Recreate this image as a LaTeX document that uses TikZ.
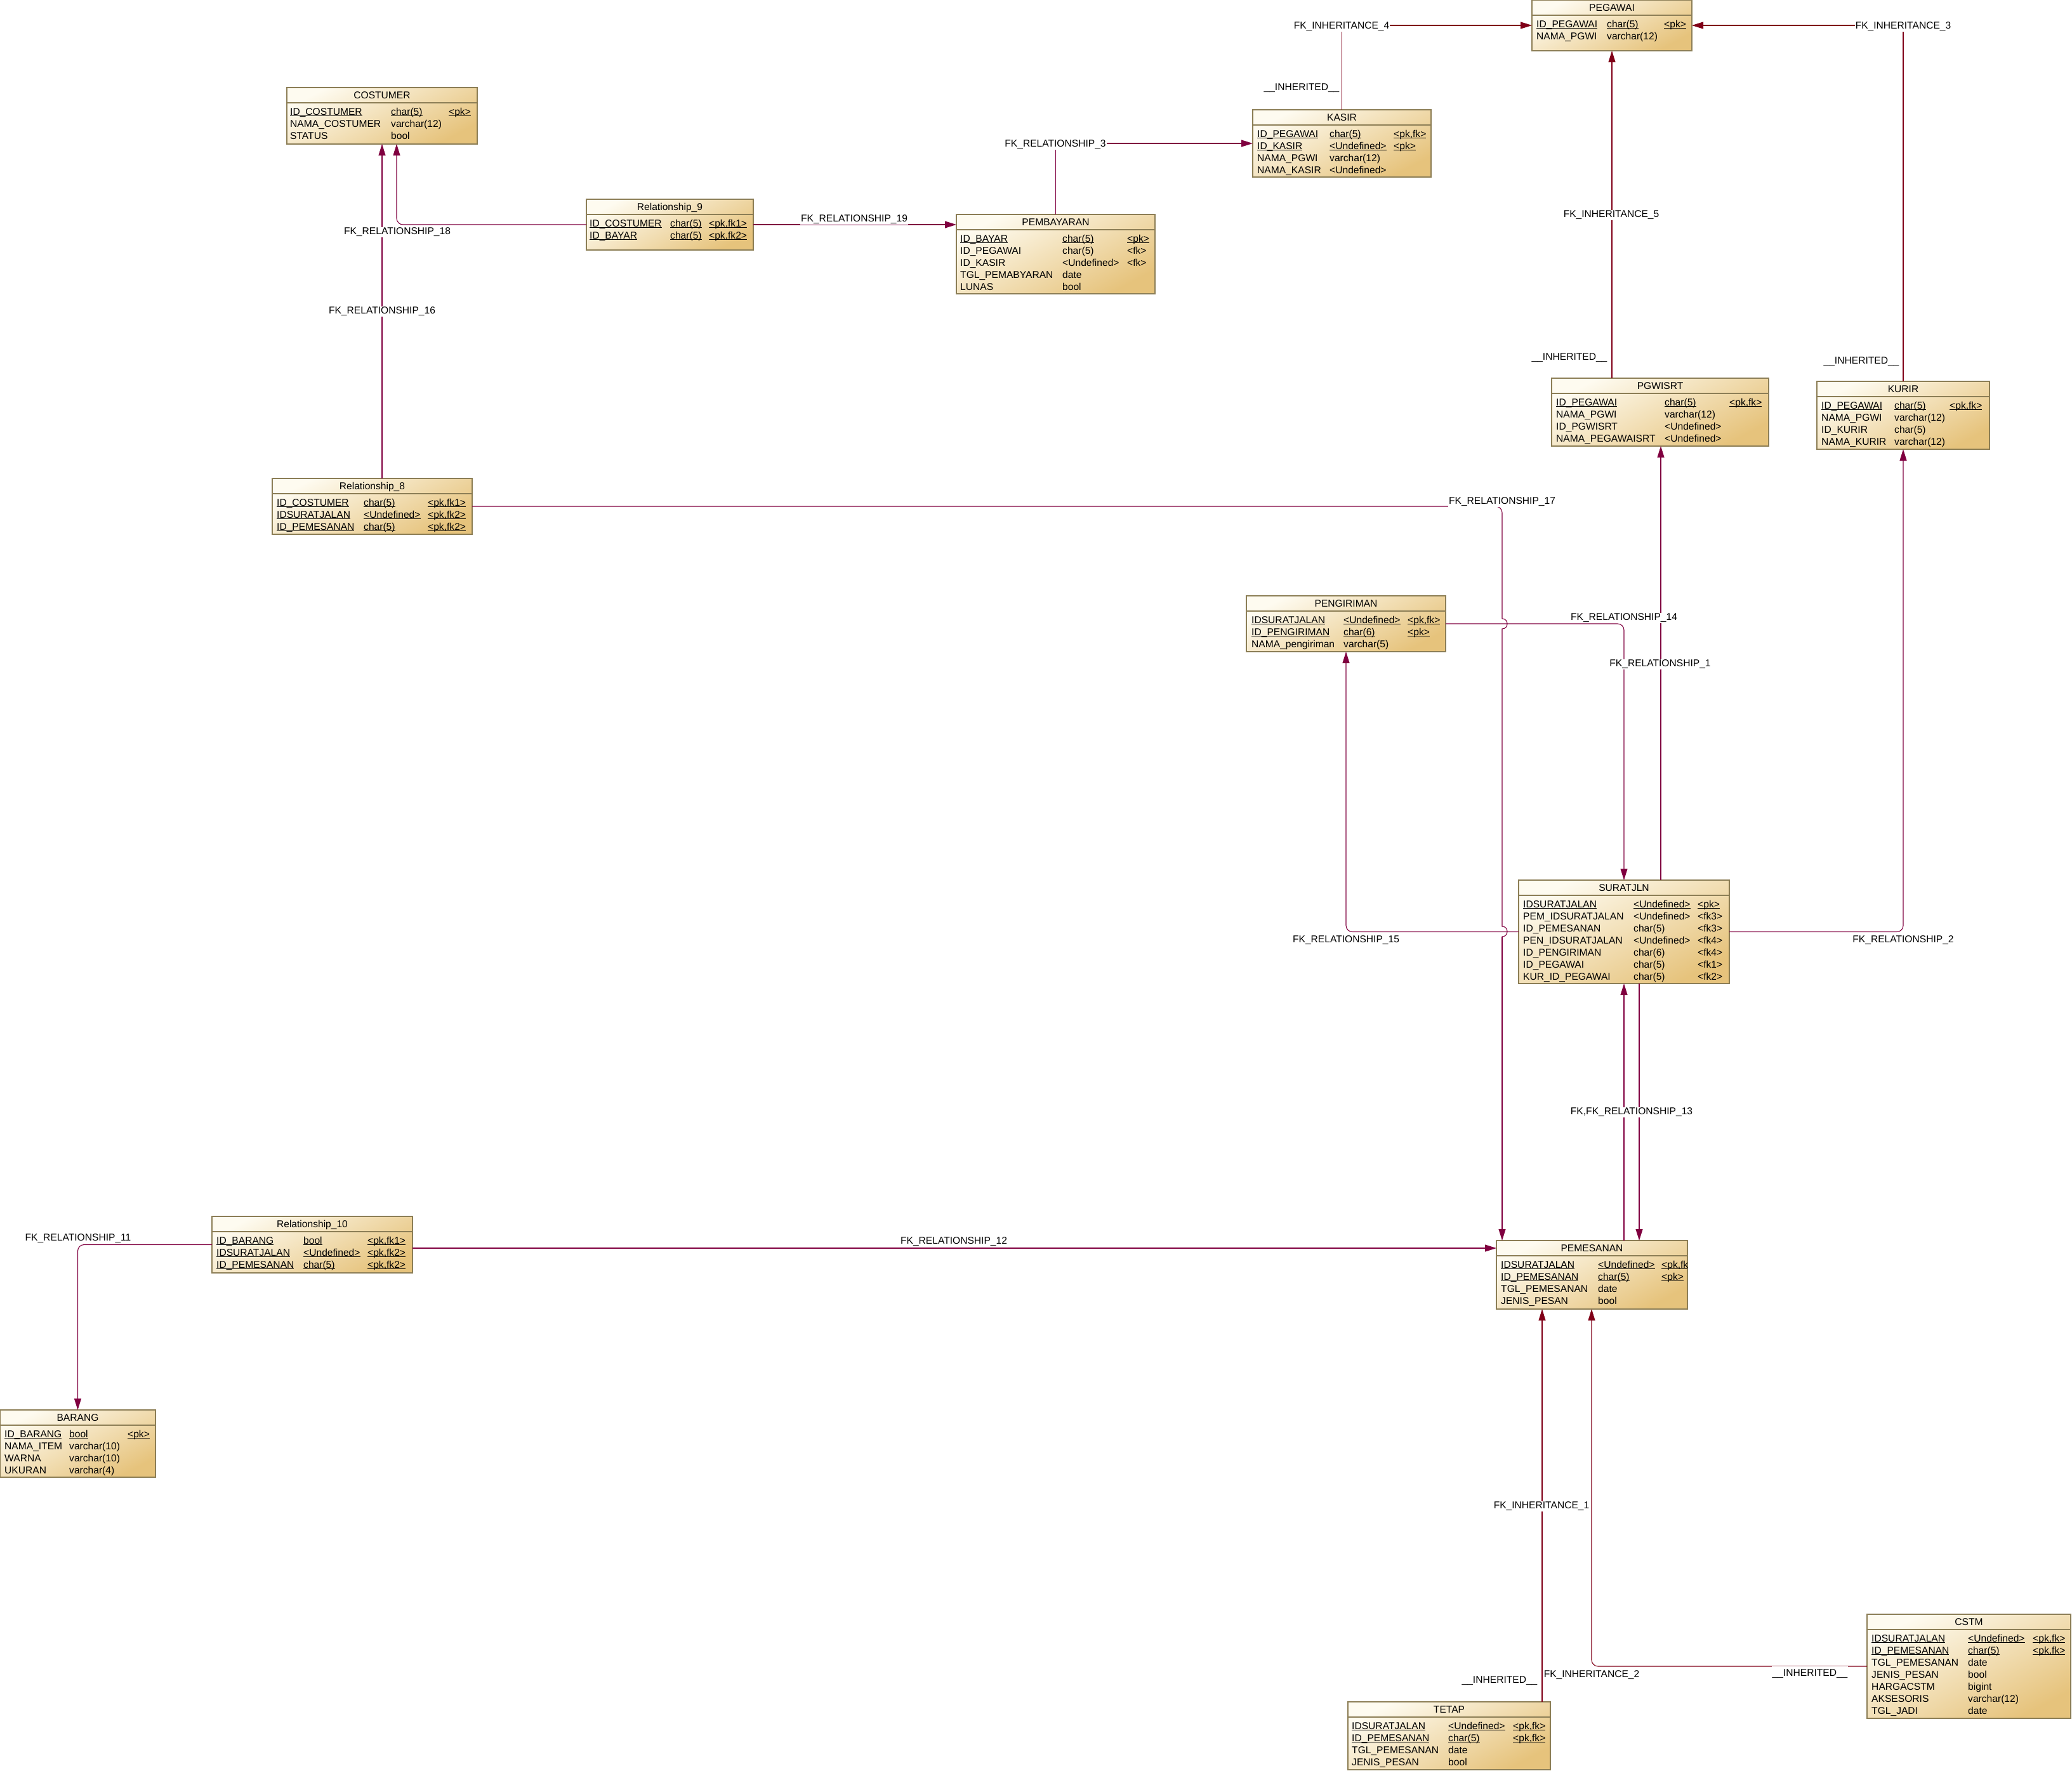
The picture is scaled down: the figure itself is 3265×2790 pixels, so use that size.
\documentclass[tikz,border=0pt]{standalone}
\usepackage{fontspec}
\setmainfont{Liberation Sans}
\usetikzlibrary{calc,arrows.meta}
\definecolor{boxlight}{RGB}{254,251,240}
\definecolor{boxdark}{RGB}{230,195,124}
\definecolor{boxborder}{RGB}{140,126,86}
\definecolor{relcol}{RGB}{128,0,64}
\definecolor{inhcol}{RGB}{128,0,24}
\newcommand\keyul[1]{\setbox0\hbox{#1}\rlap{\rule[-2.2pt]{\wd0}{1pt}}\box0}
\newcommand\entity[6]{%
  \node[entbox, minimum width={(#4)-(#2)}, minimum height={(#5)-(#3)}] (#1) at (#2,#3) {};
  \draw[entline] ($(#1.north west)+(0,24)$) -- ($(#1.north east)+(0,24)$);
  \node[etitle] (#1-title) at ($(#1.north)+(0,17.6)$) {#6};
  \def\ename{#1}\def\etop{#3}}
\newcommand\cols[3]{\def\ca{#1}\def\cb{#2}\def\cc{#3}}
\newcommand\erow[4]{%
  \pgfmathsetmacro\ey{\etop+37.5+19*(#1-1)+5.6}%
  \node[ecell] (\ename-r#1a) at (\ca,\ey) {#2};
  \node[ecell] (\ename-r#1b) at (\cb,\ey) {#3};
  \node[ecell] (\ename-r#1c) at (\cc,\ey) {#4};}
\tikzset{
  entbox/.style={draw=boxborder, line width=1.3pt, top color=boxlight, bottom color=boxdark, shading angle=28, inner sep=0pt, outer sep=0pt, anchor=north west, rectangle},
  entline/.style={draw=boxborder, line width=1.2pt},
  etitle/.style={anchor=base, inner sep=0pt, font=\fontsize{15.6}{19}\selectfont},
  ecell/.style={anchor=base west, inner sep=0pt, font=\fontsize{15.6}{19}\selectfont},
  rel/.style={draw=relcol, line width=1.1pt},
  inh/.style={draw=inhcol, line width=1.1pt},
  fkarrow/.style={-{Triangle[length=18pt,width=11pt]}},
  lbl/.style={fill=white, inner sep=1pt, anchor=base, font=\fontsize{15.6}{19}\selectfont},
}
\begin{document}
\begin{tikzpicture}[x=1pt,y=-1pt]
\useasboundingbox (0,0) rectangle (3265,2790);
\fill[white] (0,0) rectangle (3265,2790);

% ---------- entities ----------
\entity{pegawai}{2414}{0}{2666}{80}{PEGAWAI}
\cols{2421}{2532}{2622}
\erow{1}{\keyul{ID\_PEGAWAI}}{\keyul{char(5)}}{\keyul{<pk>}}
\erow{2}{NAMA\_PGWI}{varchar(12)}{}

\entity{kasir}{1974}{173}{2255}{279}{KASIR}
\cols{1981}{2095}{2196}
\erow{1}{\keyul{ID\_PEGAWAI}}{\keyul{char(5)}}{\keyul{<pk,fk>}}
\erow{2}{\keyul{ID\_KASIR}}{\keyul{<Undefined>}}{\keyul{<pk>}}
\erow{3}{NAMA\_PGWI}{varchar(12)}{}
\erow{4}{NAMA\_KASIR}{<Undefined>}{}

\entity{costumer}{452}{138}{752}{227}{COSTUMER}
\cols{457}{616}{707}
\erow{1}{\keyul{ID\_COSTUMER}}{\keyul{char(5)}}{\keyul{<pk>}}
\erow{2}{NAMA\_COSTUMER}{varchar(12)}{}
\erow{3}{STATUS}{bool}{}

\entity{rel9}{924}{314}{1187}{394}{Relationship\_9}
\cols{929}{1056}{1117}
\erow{1}{\keyul{ID\_COSTUMER}}{\keyul{char(5)}}{\keyul{<pk,fk1>}}
\erow{2}{\keyul{ID\_BAYAR}}{\keyul{char(5)}}{\keyul{<pk,fk2>}}

\entity{pembayaran}{1507}{338}{1820}{463}{PEMBAYARAN}
\cols{1513}{1674}{1776}
\erow{1}{\keyul{ID\_BAYAR}}{\keyul{char(5)}}{\keyul{<pk>}}
\erow{2}{ID\_PEGAWAI}{char(5)}{<fk>}
\erow{3}{ID\_KASIR}{<Undefined>}{<fk>}
\erow{4}{TGL\_PEMABYARAN}{date}{}
\erow{5}{LUNAS}{bool}{}

\entity{pgwisrt}{2445}{596}{2787}{703}{PGWISRT}
\cols{2452}{2623}{2725}
\erow{1}{\keyul{ID\_PEGAWAI}}{\keyul{char(5)}}{\keyul{<pk,fk>}}
\erow{2}{NAMA\_PGWI}{varchar(12)}{}
\erow{3}{ID\_PGWISRT}{<Undefined>}{}
\erow{4}{NAMA\_PEGAWAISRT}{<Undefined>}{}

\entity{kurir}{2863}{601}{3135}{708}{KURIR}
\cols{2870}{2985}{3072}
\erow{1}{\keyul{ID\_PEGAWAI}}{\keyul{char(5)}}{\keyul{<pk,fk>}}
\erow{2}{NAMA\_PGWI}{varchar(12)}{}
\erow{3}{ID\_KURIR}{char(5)}{}
\erow{4}{NAMA\_KURIR}{varchar(12)}{}

\entity{rel8}{429}{754}{744}{842}{Relationship\_8}
\cols{436}{573}{674}
\erow{1}{\keyul{ID\_COSTUMER}}{\keyul{char(5)}}{\keyul{<pk,fk1>}}
\erow{2}{\keyul{IDSURATJALAN}}{\keyul{<Undefined>}}{\keyul{<pk,fk2>}}
\erow{3}{\keyul{ID\_PEMESANAN}}{\keyul{char(5)}}{\keyul{<pk,fk2>}}

\entity{pengiriman}{1964}{939}{2278}{1027}{PENGIRIMAN}
\cols{1972}{2117}{2218}
\erow{1}{\keyul{IDSURATJALAN}}{\keyul{<Undefined>}}{\keyul{<pk,fk>}}
\erow{2}{\keyul{ID\_PENGIRIMAN}}{\keyul{char(6)}}{\keyul{<pk>}}
\erow{3}{NAMA\_pengiriman}{varchar(5)}{}

\entity{suratjln}{2393}{1387}{2725}{1550}{SURATJLN}
\cols{2400}{2574}{2675}
\erow{1}{\keyul{IDSURATJALAN}}{\keyul{<Undefined>}}{\keyul{<pk>}}
\erow{2}{PEM\_IDSURATJALAN}{<Undefined>}{<fk3>}
\erow{3}{ID\_PEMESANAN}{char(5)}{<fk3>}
\erow{4}{PEN\_IDSURATJALAN}{<Undefined>}{<fk4>}
\erow{5}{ID\_PENGIRIMAN}{char(6)}{<fk4>}
\erow{6}{ID\_PEGAWAI}{char(5)}{<fk1>}
\erow{7}{KUR\_ID\_PEGAWAI}{char(5)}{<fk2>}

\entity{pemesanan}{2358}{1955}{2659}{2063}{PEMESANAN}
\cols{2365}{2518}{2618}
\begin{scope}
\clip (pemesanan.north west) rectangle (pemesanan.south east);
\erow{1}{\keyul{IDSURATJALAN}}{\keyul{<Undefined>}}{\keyul{<pk,fk>}}
\end{scope}
\erow{2}{\keyul{ID\_PEMESANAN}}{\keyul{char(5)}}{\keyul{<pk>}}
\erow{3}{TGL\_PEMESANAN}{date}{}
\erow{4}{JENIS\_PESAN}{bool}{}

\entity{rel10}{334}{1917}{650}{2006}{Relationship\_10}
\cols{341}{478}{579}
\erow{1}{\keyul{ID\_BARANG}}{\keyul{bool}}{\keyul{<pk,fk1>}}
\erow{2}{\keyul{IDSURATJALAN}}{\keyul{<Undefined>}}{\keyul{<pk,fk2>}}
\erow{3}{\keyul{ID\_PEMESANAN}}{\keyul{char(5)}}{\keyul{<pk,fk2>}}

\entity{barang}{0}{2222}{245}{2328}{BARANG}
\cols{7}{109}{201}
\erow{1}{\keyul{ID\_BARANG}}{\keyul{bool}}{\keyul{<pk>}}
\erow{2}{NAMA\_ITEM}{varchar(10)}{}
\erow{3}{WARNA}{varchar(10)}{}
\erow{4}{UKURAN}{varchar(4)}{}

\entity{tetap}{2124}{2682}{2443}{2789}{TETAP}
\cols{2130}{2282}{2384}
\erow{1}{\keyul{IDSURATJALAN}}{\keyul{<Undefined>}}{\keyul{<pk,fk>}}
\erow{2}{\keyul{ID\_PEMESANAN}}{\keyul{char(5)}}{\keyul{<pk,fk>}}
\erow{3}{TGL\_PEMESANAN}{date}{}
\erow{4}{JENIS\_PESAN}{bool}{}

\entity{cstm}{2942}{2544}{3263}{2708}{CSTM}
\cols{2949}{3101}{3203}
\erow{1}{\keyul{IDSURATJALAN}}{\keyul{<Undefined>}}{\keyul{<pk,fk>}}
\erow{2}{\keyul{ID\_PEMESANAN}}{\keyul{char(5)}}{\keyul{<pk,fk>}}
\erow{3}{TGL\_PEMESANAN}{date}{}
\erow{4}{JENIS\_PESAN}{bool}{}
\erow{5}{HARGACSTM}{bigint}{}
\erow{6}{AKSESORIS}{varchar(12)}{}
\erow{7}{TGL\_JADI}{date}{}

% ---------- connectors ----------
\draw[inh, fkarrow] (kasir.north) |- (pegawai.west);
\draw[inh, fkarrow] (kurir.north) |- (pegawai.east);
\draw[inh, fkarrow] (pegawai.south |- pgwisrt.north) -- (pegawai.south);
\draw[rel, fkarrow] (pembayaran.north) |- (kasir.west);
\draw[rel, fkarrow] (rel9.east) -- (pembayaran.west |- rel9.east);
\coordinate (c18) at ($(costumer.south west)+(173,0)$);
\draw[rel, fkarrow, rounded corners=10pt] (rel9.west) -| (c18);
\draw[rel, fkarrow] (costumer.south |- rel8.north) -- (costumer.south);
% FK_RELATIONSHIP_17 with two hops
\coordinate (h1) at (2367,975);
\coordinate (h1e) at (2367,991);
\coordinate (h2) at (2367,1460);
\coordinate (h2e) at (2367,1476);
\draw[rel, rounded corners=10pt] (rel8.east) -| (h1);
\draw[rel] (h1) .. controls (2377.7,975) and (2377.7,991) .. (h1e) -- (h2) .. controls (2377.7,1460) and (2377.7,1476) .. (h2e);
\draw[rel, fkarrow] (h2e) -- (h2e |- pemesanan.north);
% FK_RELATIONSHIP_14
\coordinate (s14) at ($(suratjln.north west)+(166,0)$);
\coordinate (p14) at ($(pengiriman.north east)+(0,44)$);
\draw[rel, fkarrow, rounded corners=10pt] (p14) -| (s14);
% FK_RELATIONSHIP_1
\coordinate (s1) at ($(suratjln.north west)+(224,0)$);
\draw[rel, fkarrow] (s1) -- (s1 |- pgwisrt.south);
% FK_RELATIONSHIP_2 and 15
\draw[rel, fkarrow, rounded corners=10pt] (suratjln.east) -| (kurir.south);
\draw[rel, fkarrow, rounded corners=10pt] (suratjln.west) -| (pengiriman.south);
% FK,FK_RELATIONSHIP_13
\coordinate (m13a) at ($(pemesanan.north west)+(201,0)$);
\draw[rel, fkarrow] (m13a) -- (m13a |- suratjln.south);
\coordinate (s13b) at ($(suratjln.south west)+(190,0)$);
\draw[rel, fkarrow] (s13b) -- (s13b |- pemesanan.north);
% FK_RELATIONSHIP_12 and 11
\coordinate (r12) at ($(rel10.east)+(0,5.5)$);
\draw[rel, fkarrow] (r12) -- (pemesanan.west |- r12);
\draw[rel, fkarrow, rounded corners=10pt] (rel10.west) -| (barang.north);
% inheritance 1 and 2
\coordinate (t1) at ($(tetap.north west)+(306,0)$);
\draw[inh, fkarrow] (t1) -- (t1 |- pemesanan.south);
\coordinate (e2) at ($(pemesanan.south west)+(150,0)$);
\draw[inh, fkarrow, rounded corners=10pt] (cstm.west) -| (e2);

% ---------- labels ----------
\node[lbl] (l-inh4) at (2114,45.6) {FK\_INHERITANCE\_4};
\node[lbl] (l-inhk) at (2051,142.6) {\_\_INHERITED\_\_};
\node[lbl] (l-inh3) at (2999,45.6) {FK\_INHERITANCE\_3};
\node[lbl] (l-inhku) at (2933,573.6) {\_\_INHERITED\_\_};
\node[lbl] (l-inh5) at (2539,342.6) {FK\_INHERITANCE\_5};
\node[lbl] (l-inhp) at (2473,567.6) {\_\_INHERITED\_\_};
\node[lbl] (l-r3) at (1663,231.6) {FK\_RELATIONSHIP\_3};
\node[lbl] (l-r19) at (1346,349.6) {FK\_RELATIONSHIP\_19};
\node[lbl] (l-r18) at (626,369.6) {FK\_RELATIONSHIP\_18};
\node[lbl] (l-r16) at (602,494.6) {FK\_RELATIONSHIP\_16};
\node[lbl] (l-r17) at (2367,794.6) {FK\_RELATIONSHIP\_17};
\node[lbl] (l-r14) at (2559,977.6) {FK\_RELATIONSHIP\_14};
\node[lbl] (l-r1) at (2616,1050.6) {FK\_RELATIONSHIP\_1};
\node[lbl] (l-r15) at (2121,1485.6) {FK\_RELATIONSHIP\_15};
\node[lbl] (l-r2) at (2999,1485.6) {FK\_RELATIONSHIP\_2};
\node[lbl] (l-r13) at (2571,1756.6) {FK,FK\_RELATIONSHIP\_13};
\node[lbl] (l-r12) at (1503,1960.6) {FK\_RELATIONSHIP\_12};
\node[lbl] (l-r11) at (123,1955.6) {FK\_RELATIONSHIP\_11};
\node[lbl] (l-inh1) at (2429,2377.6) {FK\_INHERITANCE\_1};
\node[lbl] (l-inh2) at (2508,2643.6) {FK\_INHERITANCE\_2};
\node[lbl] (l-inht) at (2363,2652.6) {\_\_INHERITED\_\_};
\node[lbl, inner ysep=5pt] (l-inhc) at (2852,2641.6) {\_\_INHERITED\_\_};
\end{tikzpicture}
\end{document}
